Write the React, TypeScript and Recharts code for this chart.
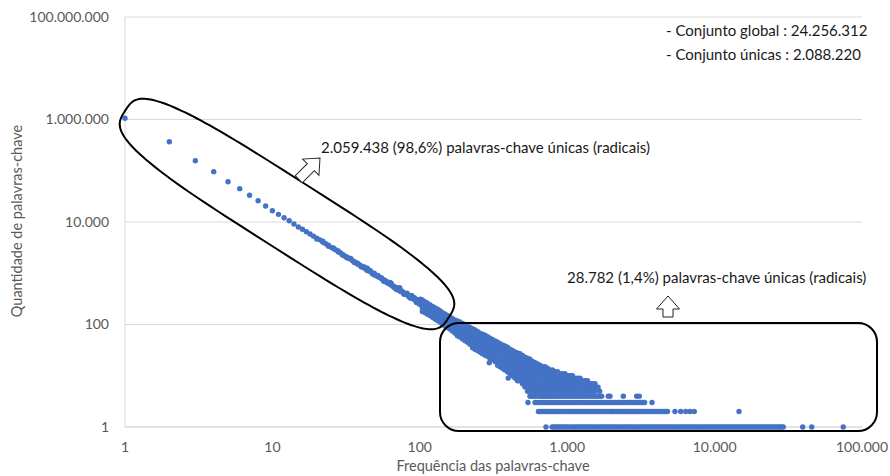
import { ScatterChart, Scatter, XAxis, YAxis, CartesianGrid } from 'recharts';

// frequência -> quantidade
const headFreq = [1, 2, 3, 4, 5, 6, 7, 8, 9, 10, 11, 12, 13, 14, 15, 16, 17, 18];
const headCount = [1055000, 369000, 157000, 96000, 61200, 44700, 33200, 26000, 20500, 16600, 14100, 12100, 10600, 9140, 7990, 7200, 6470, 5830];

const diagPoints: [number, number][] = [
  [19, 5300], [20, 4830], [21, 4480], [22, 4020], [23, 3760], [24, 3520], [25, 3200], [26, 3010], [27, 2850], [28, 2600],
  [29, 2480], [30, 2330], [31, 2170], [32, 2080], [33, 1960], [34, 1880], [35, 1760], [36, 1680], [37, 1610], [38, 1500],
  [39, 1460], [40, 1390], [41, 1320], [42, 1280], [43, 1210], [44, 1170], [45, 1120], [46, 1090], [47, 1030], [48, 990],
  [50, 930], [51, 900], [52, 860], [53, 840], [55, 780], [56, 760], [58, 720], [59, 690], [60, 680], [62, 630],
  [64, 600], [65, 570], [67, 550], [68, 530], [70, 500], [72, 480], [74, 455], [75, 450], [77, 425], [79, 405],
  [81, 385], [83, 372], [85, 355], [87, 340], [89, 330], [91, 316], [93, 300], [96, 287], [98, 276], [100, 267],
  [44, 1250], [52, 910], [57, 700], [63, 660], [69, 490], [73, 520], [78, 390], [82, 410], [86, 330], [88, 370],
  [92, 335], [95, 270], [97, 305], [99, 250], [101, 310], [103, 240],
  [20, 4650], [22, 4200], [24, 3380], [26, 3120], [28, 2720], [30, 2250], [32, 2010], [34, 1950], [36, 1620], [38, 1560],
  [40, 1340], [42, 1330], [44, 1130], [46, 1130], [48, 960], [49, 1000], [50, 900], [54, 830], [55, 810], [57, 740],
  [58, 690], [60, 650], [61, 660], [63, 600], [64, 630], [66, 560], [67, 530], [69, 520], [70, 520], [71, 470],
  [72, 500], [74, 440], [76, 440], [78, 410], [80, 400], [81, 400], [84, 350], [86, 360], [88, 330], [90, 320],
  [92, 310], [94, 290], [95, 305], [97, 280], [98, 290], [99, 270], [100, 255], [102, 255], [104, 270], [105, 245],
  [106, 230], [107, 260],
];

const bandFreq = [108, 117, 127, 137, 148, 160, 173, 187, 203, 219, 237, 256, 277, 299, 324, 350, 378, 409, 442, 478, 517, 559, 605, 654, 707, 764, 826, 894, 966, 1045, 1129, 1221, 1320, 1428, 1544];
const bandCounts = [
  [280, 232, 195, 172], [243, 205, 172, 150], [210, 175, 147, 128], [186, 154, 128, 112], [160, 134, 112, 93],
  [140, 117, 98, 82], [122, 102, 86, 68], [112, 94, 78, 65, 57], [98, 82, 68, 57, 48], [88, 71, 60, 50, 41],
  [78, 65, 55, 46, 38, 33], [68, 57, 48, 40, 33, 29], [62, 52, 44, 36, 30, 25], [54, 46, 38, 32, 27, 22], [48, 40, 33, 28, 23, 19],
  [42, 35, 29, 24, 20, 17, 15], [38, 32, 27, 22, 19, 16, 13], [33, 28, 23, 19, 16, 14, 11], [29, 24, 20, 17, 14, 12, 10, 9], [27, 22, 18, 15, 13, 11, 9, 8],
  [23, 19, 16, 14, 11, 9, 8, 7, 6], [21, 17, 14, 11, 9, 7, 6, 5], [18, 15, 12, 10, 8, 7, 6, 5], [16, 13, 11, 9, 8, 7, 6, 5], [15, 12, 10, 8, 7, 6, 5],
  [13, 11, 9, 8, 7, 6, 5], [12, 10, 9, 8, 7, 6, 5], [11, 10, 8, 7, 6, 5], [11, 9, 8, 7, 6, 5], [10, 9, 8, 7, 6, 5],
  [9, 8, 7, 6, 5], [9, 8, 7, 6, 5], [8, 7, 6, 5], [7, 6, 5], [7, 6, 5],
];

const bandFreqB = [104, 112, 122, 132, 142, 154, 166, 180, 195, 211, 228, 246, 266, 288, 311, 337, 364, 393, 425, 460, 497, 538, 582, 629, 680, 735, 795, 859, 929, 1004, 1086, 1174, 1270, 1373, 1485];
const bandCountsB = [
  [300, 255, 212, 180], [262, 220, 185, 160], [226, 190, 160, 138], [198, 164, 137, 120], [172, 143, 119, 102],
  [150, 125, 104, 87], [131, 109, 91, 75], [117, 98, 82, 70, 60], [105, 88, 73, 61, 52], [93, 76, 64, 53, 45],
  [83, 68, 57, 48, 40, 35], [73, 61, 51, 43, 36, 31], [65, 55, 46, 38, 32, 27], [58, 49, 41, 34, 28, 24], [51, 43, 36, 30, 25, 21],
  [45, 37, 31, 26, 22, 18, 16], [40, 33, 28, 23, 19, 16, 14], [36, 30, 25, 21, 17, 15, 12], [31, 26, 22, 18, 15, 13, 11, 10], [28, 23, 19, 16, 14, 12, 10, 8],
  [25, 21, 17, 14, 12, 10, 9, 7], [22, 18, 15, 12, 10, 8, 7, 6, 5], [19, 16, 13, 11, 9, 8, 7, 6, 5], [17, 14, 12, 10, 8, 7, 6, 5], [15, 13, 11, 9, 8, 7, 6, 5],
  [14, 12, 10, 9, 8, 7, 6, 5], [13, 11, 9, 8, 7, 6, 5], [12, 10, 9, 8, 7, 6, 5], [11, 10, 9, 8, 7, 6, 5], [10, 9, 8, 7, 6, 5],
  [10, 9, 8, 7, 6, 5], [9, 8, 7, 6, 5], [8, 7, 6, 5], [8, 7, 6, 5], [7, 6, 5],
];

const extraPoints: [number, number][] = [
  [296, 18], [398, 9], [718, 13], [1010, 9], [1050, 10], [1100, 8], [1190, 7], [1380, 7], [1400, 7], [1620, 6], [1660, 5],
];

const row4Freq = [559, 578, 598, 619, 640, 659, 679, 698, 718, 741, 764, 788, 812, 838, 864, 891, 919, 948, 977, 1011, 1045, 1076, 1108, 1144, 1181, 1218, 1255, 1295, 1335, 1381, 1428, 1471, 1515, 1562, 1610, 1662, 1714, 1900, 1952, 2403, 2961, 3084];
const row3Freq = [542, 605, 626, 648, 668, 688, 709, 731, 754, 777, 801, 826, 852, 878, 906, 934, 963, 992, 1023, 1055, 1088, 1121, 1156, 1192, 1229, 1267, 1307, 1347, 1389, 1432, 1476, 1520, 1568, 1618, 1668, 1718, 1772, 1828, 1885, 1943, 2004, 2066, 2130, 2196, 2264, 2334, 2407, 2482, 2559, 2638, 2720, 2804, 2892, 2982, 3075, 3170, 3260, 3352, 3760];
const row2Freq = [638, 658, 679, 698, 718, 741, 764, 788, 812, 838, 864, 891, 919, 948, 977, 1010, 1045, 1076, 1108, 1144, 1181, 1218, 1255, 1295, 1335, 1381, 1428, 1471, 1515, 1562, 1610, 1660, 1712, 1765, 1820, 1885, 1952, 2005, 2060, 2124, 2190, 2260, 2330, 2400, 2470, 2550, 2630, 2715, 2800, 2885, 2970, 3065, 3160, 3260, 3360, 3465, 3570, 3685, 3800, 3920, 4040, 4165, 4290, 4430, 4570, 4680, 4790, 5385, 5890, 6370, 6810, 7280, 14640];
const row1Freq = [718, 790, 815, 840, 866, 893, 921, 950, 980, 1010, 1045, 1080, 1115, 1150, 1185, 1220, 1260, 1300, 1340, 1380, 1425, 1470, 1520, 1570, 1620, 1670, 1725, 1780, 1835, 1890, 1950, 2010, 2075, 2140, 2210, 2280, 2355, 2430, 2510, 2590, 2670, 2750, 2840, 2930, 3025, 3120, 3220, 3320, 3425, 3530, 3645, 3760, 3880, 4000, 4130, 4260, 4400, 4540, 4690, 4830, 4985, 5140, 5300, 5470, 5650, 5830, 6010, 6200, 6400, 6600, 6810, 7030, 7250, 7480, 7720, 7960, 8220, 8480, 8750, 9020, 9310, 9600, 9910, 10220, 10550, 10880, 11230, 11580, 11950, 12330, 12720, 13120, 13540, 13970, 14410, 14870, 15340, 15830, 16330, 16850, 17390, 17940, 18510, 19100, 19700, 20330, 20980, 21640, 22330, 23030, 23770, 24520, 25300, 26100, 26930, 27780, 28500, 29250, 39600, 45600, 74600];

const xTicks = [1, 10, 100, 1000, 10000, 100000];
const yTicks = [1, 100, 10000, 1000000, 100000000];

const points: { x: number; y: number }[] = [];
headFreq.forEach((f, i) => points.push({ x: f, y: headCount[i] }));
diagPoints.forEach(([f, c]) => points.push({ x: f, y: c }));
bandFreq.forEach((f, i) => bandCounts[i].forEach((c) => points.push({ x: f, y: c })));
bandFreqB.forEach((f, i) => bandCountsB[i].forEach((c) => points.push({ x: f, y: c })));
extraPoints.forEach(([f, c]) => points.push({ x: f, y: c }));
row4Freq.forEach((f) => points.push({ x: f, y: 4 }));
row3Freq.forEach((f) => points.push({ x: f, y: 3 }));
row2Freq.forEach((f) => points.push({ x: f, y: 2 }));
row1Freq.forEach((f) => points.push({ x: f, y: 1 }));

const fmt = (v: number) => String(v).replace(/\B(?=(\d{3})+(?!\d))/g, '.');

const FONT = 'Lato, "Open Sans", sans-serif';
const tickStyle = { fill: '#595959', fontSize: 14, fontFamily: FONT };

const Dot = (props: any) => <circle cx={props.cx} cy={props.cy} r={2.7} fill="#4472C4" />;

// seta em bloco apontando para cima, ponta na origem
const arrowPath = (len: number) =>
  `M0,0 L11.5,13 L5,13 L5,${len} L-5,${len} L-5,13 L-11.5,13 Z`;

// contorno alongado (superelipse) em volta da parte diagonal
const blobPath = (a: number, b: number, n: number) => {
  const pts: string[] = [];
  for (let i = 0; i < 180; i++) {
    const t = (i / 180) * Math.PI * 2;
    const c = Math.cos(t);
    const s = Math.sin(t);
    const px = a * Math.sign(c) * Math.pow(Math.abs(c), 2 / n);
    const py = b * Math.sign(s) * Math.pow(Math.abs(s), 2 / n);
    pts.push(`${px.toFixed(2)},${py.toFixed(2)}`);
  }
  return 'M' + pts.join(' L') + ' Z';
};

export default function App() {
  return (
    <div style={{ position: 'relative', width: 890, height: 476, background: '#fff' }}>
      <style>{'body{margin:0}'}</style>
      <ScatterChart width={890} height={476} margin={{ top: 17, right: 28, bottom: 19, left: 0 }}>
        <CartesianGrid stroke="#d9d9d9" vertical={false} />
        <XAxis
          type="number"
          dataKey="x"
          scale="log"
          domain={[1, 100000]}
          ticks={xTicks}
          tickFormatter={fmt}
          height={30}
          tickSize={6}
          tickMargin={9}
          tickLine={false}
          axisLine={{ stroke: '#d9d9d9' }}
          tick={tickStyle}
          interval={0}
        />
        <YAxis
          type="number"
          dataKey="y"
          scale="log"
          domain={[1, 100000000]}
          ticks={yTicks}
          tickFormatter={fmt}
          width={125}
          tickSize={6}
          tickMargin={10}
          tickLine={false}
          axisLine={{ stroke: '#d9d9d9' }}
          tick={tickStyle}
          interval={0}
        />
        <Scatter data={points} shape={<Dot />} isAnimationActive={false} />
      </ScatterChart>
      <svg
        width={890}
        height={476}
        style={{ position: 'absolute', left: 0, top: 0, pointerEvents: 'none', fontFamily: FONT }}
      >
        <path
          d={blobPath(192, 35, 3.4)}
          transform="translate(287,214) rotate(32.5)"
          fill="none"
          stroke="#000"
          strokeWidth={2}
        />
        <rect x={440} y={323} width={437} height={108} rx={19} fill="none" stroke="#000" strokeWidth={2} />
        <path d={arrowPath(30)} transform="translate(320,158) rotate(45)" fill="#fff" stroke="#222" strokeWidth={1} />
        <path d={arrowPath(21)} transform="translate(668,296)" fill="#fff" stroke="#222" strokeWidth={1} />
        <text x={321} y={153} fontSize={15} fill="#1a1a1a">
          2.059.438 (98,6%) palavras-chave únicas (radicais)
        </text>
        <text x={567} y={283} fontSize={15} fill="#1a1a1a">
          28.782 (1,4%) palavras-chave únicas (radicais)
        </text>
        <text x={666} y={36} fontSize={15} fill="#1a1a1a">
          - Conjunto global : 24.256.312
        </text>
        <text x={666} y={60} fontSize={15} fill="#1a1a1a">
          - Conjunto únicas : 2.088.220
        </text>
        <text x={17} y={221} fontSize={14.5} fill="#595959" textAnchor="middle" dy="0.35em" transform="rotate(-90,17,221)">
          Quantidade de palavras-chave
        </text>
        <text x={493} y={471} fontSize={14.5} fill="#595959" textAnchor="middle">
          Frequência das palavras-chave
        </text>
      </svg>
    </div>
  );
}
